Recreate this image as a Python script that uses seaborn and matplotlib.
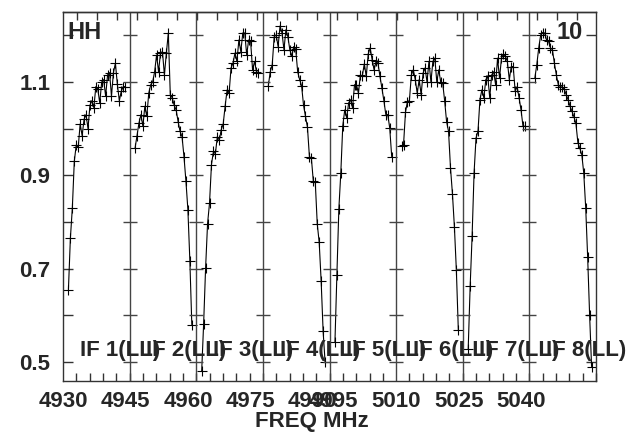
import matplotlib
matplotlib.use("Agg")
import matplotlib.pyplot as plt
import numpy as np
import pandas as pd
import seaborn as sns

# bandpass amplitudes per IF
if_names = ["IF 1(LL)", "IF 2(LL)", "IF 3(LL)", "IF 4(LL)",
            "IF 5(LL)", "IF 6(LL)", "IF 7(LL)", "IF 8(LL)"]
if_start = [4930, 4946, 4962, 4978, 4994, 5010, 5026, 5042]
first_chan = 1.3   # MHz offset of the first plotted channel
chan_width = 0.47  # MHz

if1 = [0.655, 0.765, 0.83, 0.93, 0.965, 0.96, 1.01, 0.985, 1.02, 1.03,
       1.0, 1.05, 1.06, 1.045, 1.09, 1.085, 1.055, 1.10, 1.105, 1.07,
       1.115, 1.12, 1.07, 1.12, 1.14, 1.095, 1.06, 1.08, 1.09, 1.09]
if2 = [0.958, 0.985, 1.012, 1.03, 1.005, 1.048, 1.026, 1.076, 1.094, 1.10,
       1.122, 1.158, 1.122, 1.162, 1.165, 1.115, 1.162, 1.205, 1.073, 1.066,
       1.05, 1.04, 1.015, 0.994, 0.983, 0.94, 0.887, 0.826, 0.717, 0.58]
if3 = [0.48, 0.582, 0.701, 0.796, 0.84, 0.923, 0.951, 0.946, 0.983, 0.975,
       0.998, 1.01, 1.049, 1.083, 1.076, 1.13, 1.14, 1.162, 1.144, 1.19,
       1.165, 1.205, 1.205, 1.158, 1.19, 1.187, 1.126, 1.144, 1.122, 1.12]
if4 = [1.092, 1.122, 1.137, 1.197, 1.201, 1.176, 1.22, 1.205, 1.169, 1.212,
       1.197, 1.169, 1.155, 1.176, 1.17, 1.122, 1.105, 1.092, 1.05, 1.026,
       1.003, 0.94, 0.937, 0.887, 0.885, 0.796, 0.756, 0.673, 0.566, 0.50]
if5 = [0.542, 0.687, 0.828, 0.905, 1.006, 1.04, 1.023, 1.055, 1.062, 1.044,
       1.094, 1.094, 1.076, 1.115, 1.113, 1.139, 1.112, 1.16, 1.173, 1.148,
       1.126, 1.144, 1.14, 1.112, 1.087, 1.06, 1.03, 1.03, 1.001, 0.94]
if6 = [0.962, 0.965, 1.035, 1.058, 1.06, 1.115, 1.126, 1.105, 1.076, 1.105,
       1.073, 1.119, 1.13, 1.10, 1.144, 1.10, 1.144, 1.151, 1.10, 1.126,
       1.10, 1.098, 1.06, 1.015, 0.994, 0.916, 0.86, 0.789, 0.696, 0.568]
if7 = [0.528, 0.662, 0.77, 0.905, 0.98, 0.994, 1.062, 1.083, 1.066, 1.105,
       1.112, 1.066, 1.115, 1.122, 1.094, 1.151, 1.108, 1.151, 1.16, 1.155,
       1.144, 1.105, 1.133, 1.133, 1.08, 1.09, 1.066, 1.04, 1.005, 1.005]
if8 = [1.108, 1.137, 1.173, 1.201, 1.206, 1.205, 1.19, 1.187, 1.173, 1.169,
       1.14, 1.115, 1.094, 1.09, 1.089, 1.085, 1.073, 1.062, 1.048, 1.037,
       1.025, 1.011, 0.97, 0.958, 0.944, 0.905, 0.83, 0.724, 0.60, 0.49]
amps = [if1, if2, if3, if4, if5, if6, if7, if8]

x_tick_vals = [4930, 4945, 4960, 4975, 4990, 4995, 5010, 5025, 5040]
y_tick_vals = [0.5, 0.7, 0.9, 1.1]
y_minor_vals = [0.6, 0.8, 1.0, 1.2]

rows = []
for name, start, vals in zip(if_names, if_start, amps):
    for k, v in enumerate(vals):
        rows.append({"IF": name, "freq": start + first_chan + chan_width * k, "amp": v})
df = pd.DataFrame(rows)

sns.set_style("ticks")
plt.rcParams["font.family"] = ["Liberation Sans", "DejaVu Sans"]
plt.rcParams["font.weight"] = "bold"
plt.rcParams["axes.labelweight"] = "bold"

fig = plt.figure(figsize=(6.32, 4.34), dpi=100)
ax = fig.add_axes([0.0997, 0.1221, 0.8434, 0.8503])

sns.lineplot(data=df, x="freq", y="amp", units="IF", estimator=None, sort=False,
             color="black", linewidth=0.8, marker="+", markersize=7,
             markeredgewidth=0.8, markeredgecolor="black", ax=ax)

xmin, xmax = 4930, 5058
ax.set_xlim(xmin, xmax)
ax.set_ylim(0.459, 1.25)

# IF separators with their own y ticks
for s in if_start[1:]:
    ax.axvline(s, color="#444444", lw=1)
    ax.plot([s] * 8, y_tick_vals + y_minor_vals, ls="none", marker="_",
            markersize=10, markeredgewidth=1, color="#444444")

for name, start in zip(if_names, if_start):
    ax.text(start + 4.0, 0.525, name, fontsize=16, fontweight="bold",
            ha="left", va="center")

ax.text(0.009, 0.975, "HH", transform=ax.transAxes, fontsize=17,
        fontweight="bold", ha="left", va="top")
ax.text(0.976, 0.975, "10", transform=ax.transAxes, fontsize=17,
        fontweight="bold", ha="right", va="top")

ax.set_xticks(x_tick_vals)
ax.set_xticklabels([str(v) for v in x_tick_vals], fontsize=16, fontweight="bold")
ax.set_xticks(np.arange(4933.2, xmax, 3.2), minor=True)
ax.tick_params(axis="x", which="major", length=0, pad=7)
ax.tick_params(axis="x", which="minor", direction="in", length=6, width=1,
               color="#333333", bottom=True)

ax.set_yticks(y_tick_vals)
ax.set_yticklabels([f"{v:.1f}" for v in y_tick_vals], fontsize=16, fontweight="bold")
ax.set_yticks(y_minor_vals, minor=True)
ax.tick_params(axis="y", which="both", direction="in", length=7, width=1,
               left=True, right=True, color="#333333", pad=9)

top = ax.secondary_xaxis("top")
top.set_xticks(np.arange(4933.4, xmax, 4.8))
top.tick_params(direction="in", length=6, width=1, color="#333333", labeltop=False)

for sp in list(ax.spines.values()) + list(top.spines.values()):
    sp.set_color("#333333")
    sp.set_linewidth(1)

ax.set_xlabel("FREQ MHz", fontsize=16, fontweight="bold")
ax.xaxis.set_label_coords(0.467, -0.082)
ax.set_ylabel("")

fig.savefig("out.png", dpi=100)
